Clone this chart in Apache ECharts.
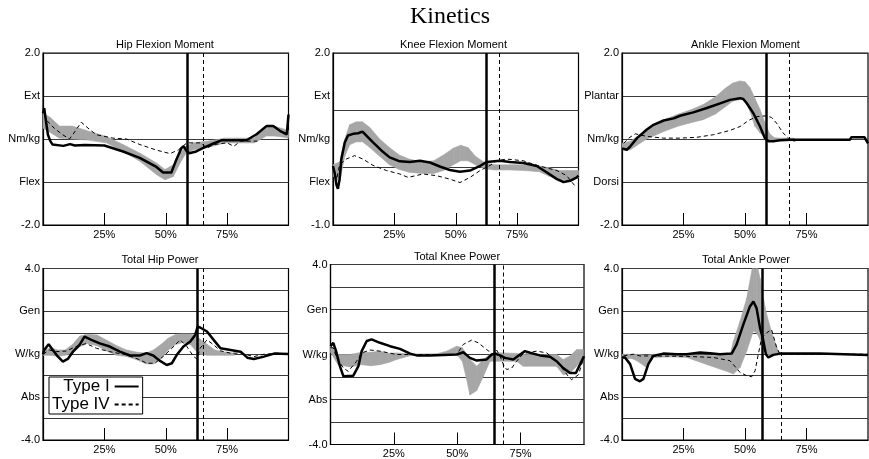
<!DOCTYPE html>
<html>
<head>
<meta charset="utf-8">
<title>Kinetics</title>
<script src="https://cdn.jsdelivr.net/npm/echarts@6.0.0/dist/echarts.min.js"></script>
<style>
html, body { margin: 0; padding: 0; background: #fff; }
#main { width: 869px; height: 459px; }
</style>
</head>
<body>
<div id="main"></div>
<script>
// ---- data: [percent of gait cycle, value]; bands are [percent, low, high] ----
var hipMomBand = [[0,0.25,0.6],[3,0.15,0.5],[6.7,0.02,0.3],[12,0,0.3],[17.6,-0.02,0.2],[25.8,-0.09,0.06],[32.6,-0.29,-0.13],[39.5,-0.52,-0.33],[46.3,-0.83,-0.56],[49.7,-0.95,-0.71],[53.1,-0.87,-0.6],[55.9,-0.55,-0.32],[58,-0.35,-0.18],[61.3,-0.25,-0.09],[67,-0.2,-0.05],[72.3,-0.12,0],[73.6,-0.09,0.02],[80,-0.09,0.02],[86,-0.09,0.02],[87.3,-0.05,0.1],[91,0.07,0.3],[94.1,0.07,0.3],[97,0.05,0.25],[100,0.02,0.2]];
var hipMomI = [[0,0.6],[0.5,0.72],[1,0.5],[2,0.1],[3,-0.05],[3.9,-0.13],[8.3,-0.16],[11,-0.12],[13,-0.15],[17,-0.14],[25,-0.15],[32.6,-0.29],[39.4,-0.44],[46.2,-0.65],[48.9,-0.78],[52.3,-0.78],[54.3,-0.48],[56.4,-0.21],[57.3,-0.17],[58.5,-0.28],[59.6,-0.33],[62.4,-0.29],[65.1,-0.21],[69.2,-0.11],[72.6,-0.03],[82.9,-0.03],[87,0.11],[91,0.3],[93.8,0.3],[96.5,0.19],[99.3,0.11],[100,0.57]];
var hipMomIV = [[0.5,0.57],[1.2,0.45],[4.6,0.25],[8,0.1],[10.8,0],[12.1,0.1],[15.6,0.39],[19,0.22],[21.7,0.1],[28.5,0.02],[34,0],[39.5,-0.13],[46.3,-0.26],[51.8,-0.34],[55.2,-0.25],[58.6,-0.09],[64.1,-0.09],[66.8,-0.21],[69.5,-0.13],[75,-0.09],[77.7,-0.17],[80.5,-0.05],[87.3,-0.05]];

var kneeMomBand = [[0,-0.15,0.05],[2.7,-0.25,0.1],[4.8,0.2,0.5],[6.8,0.4,0.75],[9.5,0.45,0.8],[12,0.45,0.8],[15,0.35,0.7],[19,0.2,0.5],[23,0.05,0.35],[27,-0.03,0.22],[31,-0.08,0.15],[36,-0.1,0.1],[41,-0.1,0.12],[45,-0.05,0.22],[49,0.05,0.34],[52,0.12,0.39],[55,0.12,0.35],[58,0.05,0.2],[62,-0.02,0.08],[66,-0.04,0.05],[72,-0.04,0.05],[78,-0.05,0.05],[84,-0.07,0.03],[88,-0.15,0],[92,-0.2,-0.05],[96,-0.22,-0.05],[100,-0.18,-0.05]];
var kneeMomI = [[0,0.03],[0.7,-0.1],[1.4,-0.3],[2,-0.37],[2.7,-0.2],[3.4,0.15],[4.8,0.44],[6.1,0.56],[8.2,0.59],[10.2,0.6],[12,0.63],[13.6,0.56],[16.3,0.44],[19.7,0.3],[23.1,0.18],[27.2,0.11],[31.3,0.1],[35.4,0.12],[39.5,0.09],[43.5,0.02],[47.6,-0.04],[51.7,-0.07],[55.8,-0.05],[59.9,0.03],[62.6,0.1],[68,0.12],[72.1,0.1],[77.6,0.08],[83,0.03],[87,-0.08],[91.2,-0.2],[93.9,-0.25],[96.6,-0.23],[99.3,-0.17],[100,-0.14]];
var kneeMomIV = [[0,0],[1.5,-0.2],[2.7,0.05],[5.4,0.15],[8.8,0.21],[12.2,0.15],[16.3,0.04],[21.8,-0.05],[27.2,-0.11],[30.6,-0.17],[36.7,-0.11],[42.2,-0.14],[47.6,-0.2],[51.7,-0.26],[55.8,-0.17],[59.9,-0.05],[64,0.04],[66.7,0.12],[70.7,0.15],[77.6,0.12],[81.6,0.06],[85.7,0.01],[91.2,-0.05],[95.2,-0.14],[98.6,-0.32]];

var ankleMomBand = [[0,-0.25,-0.1],[3.4,-0.25,-0.05],[6,-0.15,0.05],[10,0,0.2],[14,0.1,0.35],[18,0.2,0.47],[23,0.3,0.58],[28,0.38,0.68],[33,0.45,0.8],[38,0.58,0.98],[42,0.75,1.18],[45,0.88,1.3],[48,0.92,1.35],[50,0.9,1.33],[52,0.65,1.2],[54,0.3,0.95],[56,0.15,0.7],[58,0.05,0.4],[60,-0.02,0.12],[62,-0.05,0.03],[65,-0.04,0.02],[70,-0.04,0.02]];
var ankleMomI = [[0,-0.22],[2,-0.25],[3.4,-0.17],[6.1,0.02],[10.1,0.22],[12.8,0.33],[16.9,0.43],[21,0.48],[23.6,0.54],[29,0.62],[34.5,0.72],[39.9,0.83],[43.9,0.91],[48,0.95],[49.3,0.93],[50.7,0.83],[53.4,0.6],[56.1,0.29],[58.1,0.02],[59.5,-0.05],[61.5,-0.05],[64.2,-0.03],[68.2,-0.02],[77.7,-0.02],[92.6,-0.02],[93.2,0.04],[98.6,0.04],[100,-0.1]];
var ankleMomIV = [[0.7,-0.1],[2.7,0.02],[5.4,0.12],[10.1,0.06],[16.9,0.02],[23.6,0.02],[30.4,0.04],[37.2,0.1],[43.9,0.2],[48,0.29],[51.4,0.43],[54.7,0.52],[58.8,0.54],[60.8,0.5],[62.8,0.37],[65.5,0.14],[67.6,0.02],[69.6,-0.05],[72.3,-0.02],[92,-0.02]];

var hipPowBand = [[0,-0.05,0.15],[3,-0.05,0.3],[6,-0.1,0.2],[9,-0.05,0.2],[12,0.05,0.45],[15,0.35,0.85],[18,0.5,0.93],[22,0.4,0.9],[26,0.15,0.65],[30,-0.05,0.4],[34,-0.1,0.2],[38,-0.25,0.1],[42,-0.45,0.05],[45,-0.45,0.2],[48,-0.2,0.45],[51,0.2,0.75],[54,0.45,0.92],[57,0.55,0.95],[60,0.45,0.95],[62,0.2,0.9],[64,0,0.7],[67,-0.05,0.45],[70,-0.05,0.2],[74,-0.05,0.1],[78,-0.05,0.05]];
var hipPowI = [[0,0],[0.5,0.2],[2.3,0.47],[4,0.2],[6,-0.1],[8.1,-0.34],[10.1,-0.22],[12.2,0.12],[14.9,0.44],[16.9,0.82],[19.7,0.67],[23.1,0.51],[27.2,0.36],[31.3,0.12],[35.4,-0.06],[39.5,-0.06],[42.2,0.05],[44.9,-0.06],[47.7,-0.31],[50.4,-0.5],[52.5,-0.42],[54.5,-0.03],[57.2,0.36],[60,0.59],[62,0.9],[63,1.29],[64,1.25],[66.8,1.06],[69.5,0.67],[72.3,0.28],[76.4,0.2],[80.5,0.12],[83.2,-0.16],[85.9,-0.22],[90,-0.11],[94.1,0.03],[100,0.01]];
var hipPowIV = [[0,0],[2.6,0.2],[5.3,0.12],[9.4,0.15],[13.5,0.36],[17.6,0.5],[21.7,0.28],[27.2,0.12],[34,-0.03],[39.5,-0.26],[42.2,-0.42],[45.6,-0.42],[49,-0.1],[52.5,0.28],[55.9,0.67],[58.6,0.36],[61.3,-0.1],[62.7,-0.22],[64,0.28],[66.8,0.67],[69.5,0.44],[72.3,0.16],[76.4,0.05],[80.5,0.05],[85.9,-0.11],[90,0],[95.5,0.05],[100,0]];

var kneePowBand = [[0,0.1,0.4],[3,-0.45,0],[7.7,-0.55,0],[12.3,-0.45,0.1],[16,-0.5,0.1],[19.5,-0.45,0.15],[23,-0.35,0.05],[26.1,-0.22,0.07],[31.4,-0.05,0.02],[42,-0.03,0.03],[45.8,-0.02,0.15],[49.8,0,0.37],[52,-0.3,0.3],[53.7,-1.1,0],[55,-1.8,-0.22],[57.7,-1.6,-0.52],[60.3,-0.97,-0.22],[62.9,-0.3,0],[65.5,-0.3,0.08],[73.4,-0.3,0.05],[76,-0.52,0],[89.2,-0.52,0],[91.8,-0.9,-0.22],[94.5,-0.82,-0.07],[97.1,-0.52,0.22],[99.7,-0.15,0.22]];
var kneePowI = [[0,0.37],[1.1,0.52],[2.2,0.15],[3.7,-0.52],[5.1,-0.97],[9,-0.94],[11,-0.52],[12.3,0.15],[14.3,0.6],[16.2,0.67],[19.5,0.52],[23.5,0.37],[27.4,0.25],[31.4,0.04],[34,-0.04],[39.2,-0.04],[49.8,0],[52.4,0.1],[55,-0.15],[57.7,-0.27],[61.6,-0.22],[63.6,0],[64.9,0.04],[66.9,-0.04],[68.8,-0.15],[72.1,-0.22],[74.8,0],[76.7,0.15],[78.7,0.08],[82.6,-0.04],[86.6,-0.1],[89.2,-0.3],[91.8,-0.6],[94.5,-0.82],[96.8,-0.82],[98.4,-0.45],[100,-0.08]];
var kneePowIV = [[0,0.3],[1.1,0.3],[2.4,-0.15],[5.1,-0.6],[7,-0.75],[10.3,-0.3],[12.3,0.07],[15.6,0.2],[19.5,0.15],[26.1,0],[49.8,0],[52.4,0.45],[55.7,0.64],[58.3,0.52],[61.6,0.22],[64.2,0],[65.5,0.2],[66.9,-0.07],[68.2,-0.45],[69.5,-0.67],[71.5,-0.6],[73.4,-0.3],[76,0.04],[81.3,0.15],[85.3,0.07],[89.2,-0.3],[91.8,-0.67],[93.8,-0.97],[95.1,-1.12],[97.8,-0.9],[99.7,-0.22]];

var anklePowBand = [[0,-0.2,0],[4,-0.2,0],[6,-0.3,0],[10,-0.62,-0.05],[12.7,-0.15,0],[20,-0.12,0],[26.3,-0.15,-0.02],[35,-0.5,-0.05],[43.9,-0.85,-0.05],[45.3,-0.92,0.62],[48,-0.62,1.54],[50.7,0.15,2.62],[53.4,1.08,4.3],[54.7,1,4.3],[56.1,0.69,3.54],[57.5,0.2,2.6],[58.8,0,1.85],[61.5,-0.03,0.77],[63.5,-0.03,0.15],[65,-0.03,0.03]];
var anklePowI = [[0,-0.15],[1.2,-0.15],[3.3,-0.46],[5.3,-1.15],[7.3,-1.26],[8.7,-1.15],[10.7,-0.46],[12.7,-0.08],[16.8,0.03],[22.2,0],[26.3,0],[31.7,0.08],[35.8,0.05],[39.8,0],[44.6,0.03],[46.6,0.46],[49.3,1.38],[52,2.23],[53.4,2.46],[54.7,2.15],[56.1,1.23],[57.2,0.77],[57.7,0.85],[58.5,0],[59.5,-0.15],[61.5,-0.03],[64.2,0.03],[80.5,0.03],[100,-0.03]];
var anklePowIV = [[0.6,-0.08],[4.6,0],[7.3,-0.08],[12.7,-0.08],[26.3,-0.1],[37.1,-0.15],[43.9,-0.3],[48,-0.85],[50.7,-1],[52.7,-1.05],[54.1,-0.77],[55.4,0],[56.8,0.77],[58.8,1],[60.8,1.15],[62.9,0.3],[64.2,0],[70,0],[100,0]];

// toe-off lines (percent) for Type I (solid) and Type IV (dashed)
var toeOffI = [58.7, 62.4, 58.5, 63, 64.5, 57];
var toeOffIV = [65.3, 67.9, 67.9, 65.3, 68.2, 64.6];

// titles and axis texts
var panelTitles = ['Hip Flexion Moment', 'Knee Flexion Moment', 'Ankle Flexion Moment', 'Total Hip Power', 'Total Knee Power', 'Total Ankle Power'];
var xTicks = [25, 50, 75];
var yRanges = [[-2, 2], [-1, 2], [-2, 2], [-4, 4], [-4, 4], [-4, 4]];
var hipLabels = {'2': '2.0', '1': 'Ext', '0': 'Nm/kg', '-1': 'Flex', '-2': '-2.0'};
var kneeLabels = {'1': 'Ext', '0': 'Nm/kg', '-1': 'Flex'};
var ankleLabels = {'2': '2.0', '1': 'Plantar', '0': 'Nm/kg', '-1': 'Dorsi', '-2': '-2.0'};
var powerLabels = {'4': '4.0', '2': 'Gen', '0': 'W/kg', '-2': 'Abs', '-4': '-4.0'};

var panels = [
    { band: hipMomBand, typeI: hipMomI, typeIV: hipMomIV, labels: hipLabels },
    { band: kneeMomBand, typeI: kneeMomI, typeIV: kneeMomIV, labels: kneeLabels },
    { band: ankleMomBand, typeI: ankleMomI, typeIV: ankleMomIV, labels: ankleLabels },
    { band: hipPowBand, typeI: hipPowI, typeIV: hipPowIV, labels: powerLabels },
    { band: kneePowBand, typeI: kneePowI, typeIV: kneePowIV, labels: powerLabels },
    { band: anklePowBand, typeI: anklePowI, typeIV: anklePowIV, labels: powerLabels }
];

// ---- layout ----
var gridRects = [
    { left: 43, top: 53, width: 245.5, height: 172 },
    { left: 333, top: 53, width: 245.5, height: 172 },
    { left: 622, top: 53, width: 246, height: 172 },
    { left: 43, top: 268.5, width: 245.5, height: 171.5 },
    { left: 330.5, top: 264.5, width: 253.5, height: 180 },
    { left: 622, top: 268.5, width: 246, height: 171.5 }
];
var titlePos = [[165, 39], [453.5, 39], [745.5, 39], [160, 254], [457, 251], [746, 254]];

var FONT = 'Liberation Sans, Arial, sans-serif';
var BAND_COLOR = '#a6a6a6';

var myChart = echarts.init(document.getElementById('main'), null, { renderer: 'canvas' });

var option = {
    animation: false,
    backgroundColor: '#fff',
    title: [{
        text: 'Kinetics',
        left: 450, top: 5, padding: 0, textAlign: 'center',
        textStyle: { fontFamily: 'Liberation Serif, Times New Roman, serif', fontSize: 24, fontWeight: 'normal', color: '#000' }
    }],
    legend: {
        data: ['Type I', 'Type IV'],
        orient: 'vertical',
        left: 49, top: 377,
        align: 'right',
        itemWidth: 24, itemHeight: 10, itemGap: 1,
        padding: [1, 3, 1, 3],
        borderColor: '#000', borderWidth: 1, borderRadius: 0,
        backgroundColor: '#fff',
        itemStyle: { opacity: 0 },
        textStyle: { fontFamily: FONT, fontSize: 17, color: '#000', width: 58, padding: [0, 0, 0, 0] }
    },
    grid: [], xAxis: [], yAxis: [], series: []
};

function makeLabelFormatter(map) {
    return function (v) {
        var t = map[String(v)];
        return t == undefined ? '' : t;
    };
}

// gray normal-range band, drawn segment by segment between low and high edges
function makeBandRenderer(band) {
    return function (params, api) {
        var k = params.dataIndex;
        if (k >= band.length - 1) return null;
        var a = band[k], b = band[k + 1];
        var pts = [
            api.coord([a[0], a[2]]), api.coord([b[0], b[2]]),
            api.coord([b[0], b[1]]), api.coord([a[0], a[1]])
        ];
        return {
            type: 'polygon',
            shape: { points: pts },
            style: { fill: BAND_COLOR, stroke: BAND_COLOR, lineWidth: 0.6 }
        };
    };
}

var yIndex = 0;
for (var i = 0; i < panels.length; i++) {
    var p = panels[i];
    var r = gridRects[i];

    option.title.push({
        text: panelTitles[i],
        left: titlePos[i][0], top: titlePos[i][1], padding: 0, textAlign: 'center',
        textStyle: { fontFamily: FONT, fontSize: 11, fontWeight: 'normal', color: '#000' }
    });

    option.grid.push({
        left: r.left, top: r.top, width: r.width, height: r.height,
        show: true, borderColor: '#000', borderWidth: 1.2, backgroundColor: 'transparent',
        outerBoundsMode: 'none', containLabel: false
    });

    option.xAxis.push({
        type: 'value', gridIndex: i, min: 0, max: 100,
        axisLine: { show: true, onZero: false, lineStyle: { color: '#000', width: 1.2 } },
        axisTick: { show: true, inside: true, length: 12, customValues: xTicks, lineStyle: { color: '#000', width: 1 } },
        axisLabel: { customValues: xTicks, formatter: '{value}%', fontFamily: FONT, fontSize: 11, color: '#000', margin: 4 },
        splitLine: { show: false }
    });

    var range = yRanges[i];
    var mainY = {
        type: 'value', gridIndex: i, min: range[0], max: range[1], interval: 1,
        axisLine: { show: true, onZero: false, lineStyle: { color: '#000', width: 1.2 } },
        axisTick: { show: false },
        splitLine: { show: true, lineStyle: { color: '#3a3a3a', width: 1 } },
        axisLabel: { fontFamily: FONT, fontSize: 11, color: '#000', margin: 3, formatter: makeLabelFormatter(p.labels) }
    };
    var seriesY = yIndex;
    if (i == 1) {
        // knee moment: only the end values belong to the -1..2 scale,
        // the word labels sit where the other moment panels have them
        mainY.axisLabel.customValues = [range[0], range[1]];
        mainY.axisLabel.formatter = function (v) { return v.toFixed(1); };
        option.yAxis.push(mainY);
        option.yAxis.push({
            type: 'value', gridIndex: i, min: -2, max: 2, interval: 1, position: 'left',
            axisLine: { show: false, onZero: false }, axisTick: { show: false }, splitLine: { show: false },
            axisLabel: { customValues: [-1, 0, 1], fontFamily: FONT, fontSize: 11, color: '#000', margin: 3, formatter: makeLabelFormatter(p.labels) }
        });
        yIndex += 2;
    } else {
        option.yAxis.push(mainY);
        yIndex += 1;
    }

    option.series.push({
        name: 'band-' + i, type: 'custom', xAxisIndex: i, yAxisIndex: seriesY,
        data: p.band, encode: { x: 0, y: [1, 2] }, clip: true, silent: true,
        renderItem: makeBandRenderer(p.band)
    });

    option.series.push({
        name: 'Type IV', type: 'line', xAxisIndex: i, yAxisIndex: seriesY,
        data: p.typeIV, symbol: 'none', silent: true,
        lineStyle: { color: '#000', width: 1, type: [4, 3] },
        itemStyle: { color: '#000' },
        markLine: {
            silent: true, symbol: 'none', label: { show: false },
            lineStyle: { color: '#000', width: 1, type: [4, 3] },
            data: [{ xAxis: toeOffIV[i] }]
        }
    });
    option.series.push({
        name: 'Type I', type: 'line', xAxisIndex: i, yAxisIndex: seriesY,
        data: p.typeI, symbol: 'none', silent: true,
        lineStyle: { color: '#000', width: 2.5 },
        itemStyle: { color: '#000' },
        markLine: {
            silent: true, symbol: 'none', label: { show: false },
            lineStyle: { color: '#000', width: 2.5, type: 'solid' },
            data: [{ xAxis: toeOffI[i] }]
        }
    });
}

myChart.setOption(option);
</script>
</body>
</html>
